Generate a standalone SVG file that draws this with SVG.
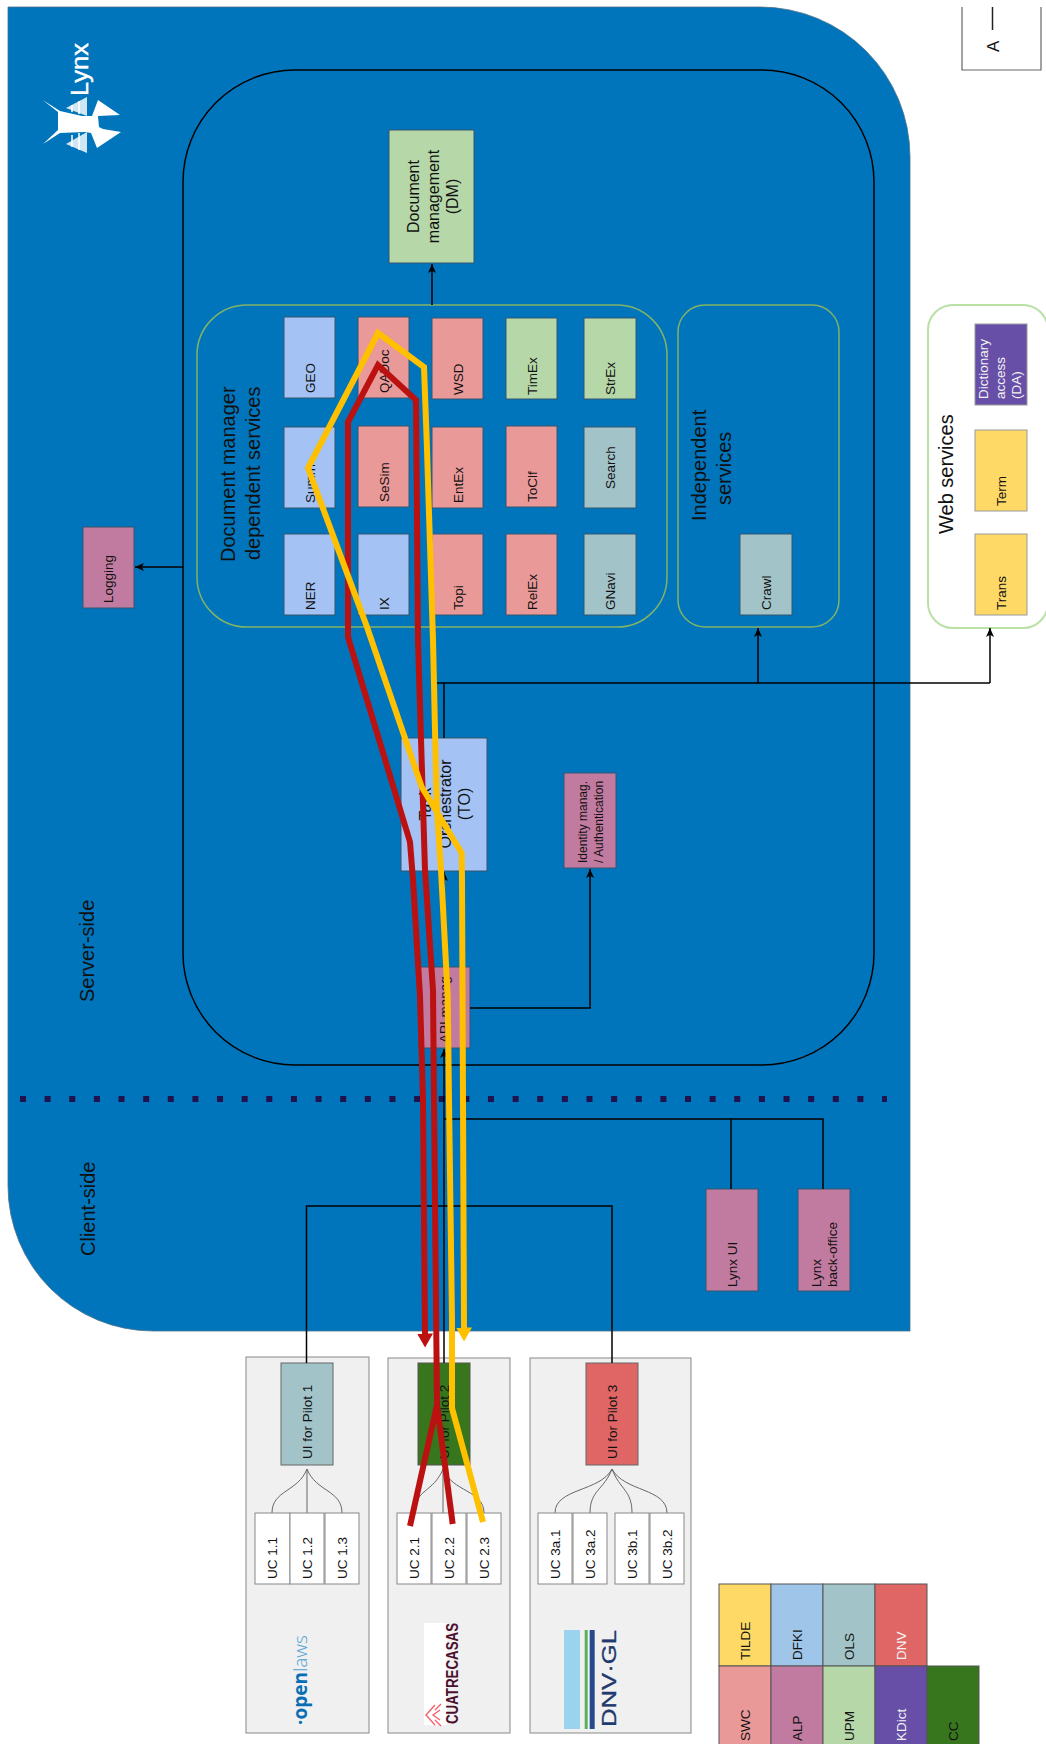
<svg xmlns="http://www.w3.org/2000/svg" width="1046" height="1744" viewBox="0 0 1046 1744">
<style>
text{font-family:"Liberation Sans",Arial,sans-serif;fill:#111;font-size:13.5px}
.b{stroke:#36566f;stroke-width:1}
.w{stroke:#999;stroke-width:1}
.pink{fill:#c27ba0}.rose{fill:#ea9999}.per{fill:#a4c2f4}.grn{fill:#b6d7a8}.teal{fill:#a2c4c9}.yel{fill:#ffd966}.vio{fill:#674ea7}.sky{fill:#9fc5e8}.red{fill:#e06666}.dgr{fill:#38761d}
.uc{fill:#fff;stroke:#888;stroke-width:1}
.panel{fill:#f0f0f0;stroke:#888;stroke-width:1}
.grp{fill:none;stroke:#82b366;stroke-width:1.5}
.t16{font-size:16px}.t20{font-size:20px}.t12{font-size:12px}
.wt{fill:#f2f2f2}
.c{fill:none;stroke:#000;stroke-width:1.5}
.a{marker-end:url(#arr)}
.fan{fill:none;stroke:#666;stroke-width:1}
.rl{fill:none;stroke:#bb1111;stroke-width:6;stroke-linejoin:miter;stroke-miterlimit:8}
.yl{fill:none;stroke:#ffc000;stroke-width:6;stroke-linejoin:miter;stroke-miterlimit:8}
</style>
<defs>
<marker id="arr" markerUnits="userSpaceOnUse" markerWidth="10" markerHeight="10" refX="9" refY="5" orient="auto"><path d="M0,1 L9,5 L0,9 L2.2,5 Z" fill="#000"/></marker>
<marker id="arrR" markerUnits="userSpaceOnUse" markerWidth="15" markerHeight="18" refX="0.5" refY="9" orient="auto"><path d="M0,1 L14,9 L0,17 Z" fill="#bb1111"/></marker>
<marker id="arrY" markerUnits="userSpaceOnUse" markerWidth="15" markerHeight="18" refX="0.5" refY="9" orient="auto"><path d="M0,1 L14,9 L0,17 Z" fill="#ffc000"/></marker>
</defs>

<g id="lynx-area">
<path d="M8,7 H760 A150,150 0 0 1 910,157 V1331 H153 A145,145 0 0 1 8,1186 Z" fill="#0075bb" stroke="#4a6f88" stroke-width="0.8"/>
<text transform="translate(88,96) rotate(-90)" textLength="53" lengthAdjust="spacingAndGlyphs" style="font-size:23px;fill:#fff;stroke:#fff;stroke-width:0.4">Lynx</text>
<g id="lynx-logo">
<path d="M66,108 L87,97 V116 Z M66,144 L87,132 V153 Z" fill="#cfe6f3"/>
<path d="M42.7,100 L60,111 L82,116 L92,116 L98,100 L120,115 L98,116 L99,127 L103,129 L121,132 L97,148 L91,133 L85,132 L60,133 L43,144 L58,130 L58,112 Z" fill="#fff"/>
<path d="M72,105 V112 M79,101 V114 M72,135 V147 M79,133 V150" stroke="#fff" stroke-width="1.5"/>
</g>
<rect id="server-side-box" x="183" y="70" width="691" height="995" rx="112" ry="112" fill="none" stroke="#000" stroke-width="1.5"/>
<text transform="translate(94,1002) rotate(-90)" class="t20">Server-side</text>
<text transform="translate(95,1256) rotate(-90)" class="t20">Client-side</text>
<line id="divider" x1="20" y1="1099" x2="887" y2="1099" stroke="#20124d" stroke-width="6" stroke-dasharray="6 18.63"/>
</g>

<g id="dm-services">
<rect class="grp" x="197" y="305" width="470" height="322" rx="50"/>
<text transform="translate(235,562) rotate(-90)" class="t20">Document manager</text>
<text transform="translate(260,560) rotate(-90)" class="t20">dependent services</text>
</g>
<g id="independent-services">
<rect class="grp" x="678" y="305" width="161" height="322" rx="27"/>
<text transform="translate(706,521) rotate(-90)" class="t20">Independent</text>
<text transform="translate(731,505) rotate(-90)" class="t20">services</text>
</g>
<g id="web-services">
<rect x="928" y="305" width="120" height="323" rx="25" fill="#fff" stroke="#b9e0a5" stroke-width="2"/>
<text transform="translate(953,534) rotate(-90)" class="t20">Web services</text>
</g>

<g id="dm"><rect class="grn b" x="389" y="130" width="85" height="133"/>
<text transform="translate(419,196.5) rotate(-90)" class="t16" text-anchor="middle">Document</text>
<text transform="translate(439,196.5) rotate(-90)" class="t16" text-anchor="middle">management</text>
<text transform="translate(458,196.5) rotate(-90)" class="t16" text-anchor="middle">(DM)</text></g>

<g id="geo"><rect class="per b" x="284" y="317" width="51" height="81"/><text transform="translate(315,393) rotate(-90)">GEO</text></g>
<g id="qadoc"><rect class="rose b" x="358" y="317" width="51" height="81"/><text transform="translate(389,393) rotate(-90)">QADoc</text></g>
<g id="wsd"><rect class="rose b" x="432" y="318" width="51" height="81"/><text transform="translate(463,395) rotate(-90)">WSD</text></g>
<g id="timex"><rect class="grn b" x="506" y="318" width="51" height="81"/><text transform="translate(537,395) rotate(-90)">TimEx</text></g>
<g id="strex"><rect class="grn b" x="584" y="318" width="52" height="81"/><text transform="translate(615,395) rotate(-90)">StrEx</text></g>

<g id="summ"><rect class="per b" x="284" y="427" width="51" height="81"/><text transform="translate(315,503) rotate(-90)">Summ</text></g>
<g id="sesim"><rect class="rose b" x="358" y="426" width="51" height="81"/><text transform="translate(389,502) rotate(-90)">SeSim</text></g>
<g id="entex"><rect class="rose b" x="432" y="427" width="51" height="81"/><text transform="translate(463,503) rotate(-90)">EntEx</text></g>
<g id="toclf"><rect class="rose b" x="506" y="426" width="51" height="81"/><text transform="translate(537,502) rotate(-90)">ToClf</text></g>
<g id="search"><rect class="teal b" x="584" y="427" width="52" height="81"/><text transform="translate(615,489) rotate(-90)">Search</text></g>

<g id="ner"><rect class="per b" x="284" y="534" width="51" height="81"/><text transform="translate(315,610) rotate(-90)">NER</text></g>
<g id="ix"><rect class="per b" x="358" y="534" width="51" height="81"/><text transform="translate(389,610) rotate(-90)">IX</text></g>
<g id="topi"><rect class="rose b" x="432" y="534" width="51" height="81"/><text transform="translate(463,610) rotate(-90)">Topi</text></g>
<g id="relex"><rect class="rose b" x="506" y="534" width="51" height="81"/><text transform="translate(537,610) rotate(-90)">RelEx</text></g>
<g id="gnavi"><rect class="teal b" x="584" y="534" width="52" height="81"/><text transform="translate(615,610) rotate(-90)">GNavi</text></g>

<g id="crawl"><rect class="teal b" x="740" y="534" width="52" height="81"/><text transform="translate(771,610) rotate(-90)">Crawl</text></g>

<g id="dict"><rect class="vio w" x="975" y="324" width="52" height="81"/>
<text transform="translate(988,399) rotate(-90)" class="wt">Dictionary</text>
<text transform="translate(1005,399) rotate(-90)" class="wt">access</text>
<text transform="translate(1021,399) rotate(-90)" class="wt">(DA)</text></g>
<g id="term"><rect class="yel w" x="975" y="430" width="52" height="81"/><text transform="translate(1006,506) rotate(-90)">Term</text></g>
<g id="trans"><rect class="yel w" x="975" y="534" width="52" height="81"/><text transform="translate(1006,610) rotate(-90)">Trans</text></g>

<g id="logging"><rect class="pink b" x="83" y="527" width="51" height="81"/><text transform="translate(113,603) rotate(-90)">Logging</text></g>

<g id="task-orchestrator"><rect class="per b" x="401" y="738" width="86" height="133"/>
<text transform="translate(431,804) rotate(-90)" class="t16" text-anchor="middle">Task</text>
<text transform="translate(451,804) rotate(-90)" class="t16" text-anchor="middle">Orchestrator</text>
<text transform="translate(470,804) rotate(-90)" class="t16" text-anchor="middle">(TO)</text></g>

<g id="identity"><rect class="pink b" x="564" y="773" width="52" height="95"/>
<text transform="translate(587,863) rotate(-90)" class="t12">Identity manag.</text>
<text transform="translate(603,863) rotate(-90)" class="t12">/ Authentication</text></g>

<g id="api"><rect class="pink b" x="419" y="967" width="51" height="81"/><text transform="translate(449,1043) rotate(-90)">API manag.</text></g>

<g id="lynx-ui"><rect class="pink b" x="706" y="1189" width="52" height="102"/><text transform="translate(737,1287) rotate(-90)">Lynx UI</text></g>
<g id="backoffice"><rect class="pink b" x="798" y="1189" width="52" height="102"/>
<text transform="translate(821,1287) rotate(-90)">Lynx</text>
<text transform="translate(837,1287) rotate(-90)">back-office</text></g>

<g id="pilot1">
<rect class="panel" x="246" y="1357" width="123" height="376"/>
<rect class="teal" stroke="#666" x="281" y="1363" width="52" height="102"/>
<text transform="translate(312,1459) rotate(-90)">UI for Pilot 1</text>
<path class="fan" d="M307,1469 C298,1492 272,1490 272,1513 M307,1469 V1513 M307,1469 C316,1492 342,1490 342,1513"/>
<rect class="uc" x="255" y="1513" width="35" height="71"/><text transform="translate(277,1579) rotate(-90)">UC 1.1</text>
<rect class="uc" x="290" y="1513" width="34" height="71"/><text transform="translate(312,1579) rotate(-90)">UC 1.2</text>
<rect class="uc" x="325" y="1513" width="34" height="71"/><text transform="translate(347,1579) rotate(-90)">UC 1.3</text>
<text transform="translate(307,1725) rotate(-90)" textLength="90" lengthAdjust="spacingAndGlyphs" style="font-family:'Open Sans','Liberation Sans',sans-serif;font-size:19px;font-weight:700;fill:#0a6eb4">·open<tspan style="font-weight:300;fill:#4f9fd0">laws</tspan></text>
</g>

<g id="pilot2">
<rect class="panel" x="388" y="1358" width="122" height="375"/>
<rect class="dgr" stroke="#555" x="418" y="1363" width="52" height="102"/>
<text transform="translate(449,1459) rotate(-90)">UI for Pilot 2</text>
<path class="fan" d="M443,1469 C434,1492 414,1490 414,1513 M443,1469 V1513 M443,1469 C452,1492 484,1490 484,1513"/>
<rect class="uc" x="397" y="1513" width="34" height="71"/><text transform="translate(419,1579) rotate(-90)">UC 2.1</text>
<rect class="uc" x="432" y="1513" width="34" height="71"/><text transform="translate(454,1579) rotate(-90)">UC 2.2</text>
<rect class="uc" x="467" y="1513" width="34" height="71"/><text transform="translate(489,1579) rotate(-90)">UC 2.3</text>
<rect x="424" y="1623" width="23" height="102" fill="#fff"/>
<path d="M435,1705 L426,1715 L435,1725 M440,1710 L433,1715 L440,1720 M441,1704 L435,1710 M441,1726 L435,1720" fill="none" stroke="#f4606c" stroke-width="1.4"/>
<text transform="translate(458,1724) rotate(-90)" textLength="101" lengthAdjust="spacingAndGlyphs" style="font-size:16px;font-weight:700;fill:#4c0f2e">CUATRECASAS</text>
</g>

<g id="pilot3">
<rect class="panel" x="530" y="1358" width="161" height="375"/>
<rect class="red" stroke="#666" x="586" y="1363" width="52" height="102"/>
<text transform="translate(617,1459) rotate(-90)">UI for Pilot 3</text>
<path class="fan" d="M612,1469 C600,1492 555,1488 555,1513 M612,1469 C604,1490 590,1490 590,1513 M612,1469 C620,1490 632,1490 632,1513 M612,1469 C624,1492 667,1488 667,1513"/>
<rect class="uc" x="538" y="1513" width="34" height="71"/><text transform="translate(560,1579) rotate(-90)">UC 3a.1</text>
<rect class="uc" x="573" y="1513" width="34" height="71"/><text transform="translate(595,1579) rotate(-90)">UC 3a.2</text>
<rect class="uc" x="615" y="1513" width="34" height="71"/><text transform="translate(637,1579) rotate(-90)">UC 3b.1</text>
<rect class="uc" x="650" y="1513" width="34" height="71"/><text transform="translate(672,1579) rotate(-90)">UC 3b.2</text>
<rect x="564" y="1630" width="16" height="99" fill="#9bd3ef"/>
<rect x="584.7" y="1630" width="3" height="99" fill="#5cb05a"/>
<rect x="589.7" y="1630" width="5" height="99" fill="#264a8e"/>
<text transform="translate(616,1727) rotate(-90)" textLength="97" lengthAdjust="spacingAndGlyphs" style="font-size:20px;fill:#1f3a6e;stroke:#1f3a6e;stroke-width:0.3">DNV·GL</text>
</g>

<g id="legend-partners">
<rect class="yel" stroke="#555" x="719" y="1584" width="52" height="82"/><text transform="translate(750,1660) rotate(-90)">TILDE</text>
<rect class="sky" stroke="#555" x="771" y="1584" width="52" height="82"/><text transform="translate(802,1660) rotate(-90)">DFKI</text>
<rect class="teal" stroke="#555" x="823" y="1584" width="52" height="82"/><text transform="translate(854,1660) rotate(-90)">OLS</text>
<rect class="red" stroke="#555" x="875" y="1584" width="52" height="82"/><text transform="translate(906,1660) rotate(-90)" class="wt">DNV</text>
<rect class="rose" stroke="#555" x="719" y="1666" width="52" height="82"/><text transform="translate(750,1741) rotate(-90)">SWC</text>
<rect class="pink" stroke="#555" x="771" y="1666" width="52" height="82"/><text transform="translate(802,1741) rotate(-90)">ALP</text>
<rect class="grn" stroke="#555" x="823" y="1666" width="52" height="82"/><text transform="translate(854,1741) rotate(-90)">UPM</text>
<rect class="vio" stroke="#555" x="875" y="1666" width="52" height="82"/><text transform="translate(906,1741) rotate(-90)" class="wt">KDict</text>
<rect class="dgr" stroke="#555" x="927" y="1666" width="52" height="82"/><text transform="translate(958,1741) rotate(-90)">CC</text>
</g>

<g id="legend-a">
<path d="M962,7 V70 H1041 V7" fill="none" stroke="#666" stroke-width="1.2"/>
<line x1="992.5" y1="7" x2="992.5" y2="30" stroke="#222" stroke-width="1.5"/>
<text transform="translate(999,52) rotate(-90)" style="font-size:17px">A</text>
</g>

<g id="connectors">
<path class="c a" d="M432,305 V264"/>
<path class="c a" d="M183,567 H135"/>
<path class="c" d="M444,738 V683"/>
<path class="c" d="M437,683 H990"/>
<path class="c a" d="M758,683 V628"/>
<path class="c a" d="M990,683 V628"/>
<path class="c a" d="M444,967 V872"/>
<path class="c a" d="M470,1008 H590 V869"/>
<path class="c a" d="M444,1363 V1049"/>
<path class="c" d="M444,1119 H823 V1189 M731,1119 V1189"/>
<path class="c" d="M306.500,1363 V1206 H612 V1363"/>

<path class="rl" d="M410,1526 L437,1405 L434,1100 L433,990 L425,870 L418,640 L416,400 L378,365 L348,422 V637 L410,842 L413,880 L420,996 L423,1100 L425,1334" marker-end="url(#arrR)"/>
<path class="rl" d="M452.700,1524 L437,1405"/>
<path class="yl" d="M483,1522 L452,1408 V1320 L449,1100 L447.700,996 L441,870 L436.700,806 L433,640 L426.700,440 L424,367 L378,333 L308,468 L367,627 L421.700,787 L461.700,853 L462,880 L463,1100 L464,1328" marker-end="url(#arrY)"/>
</g>
</svg>
